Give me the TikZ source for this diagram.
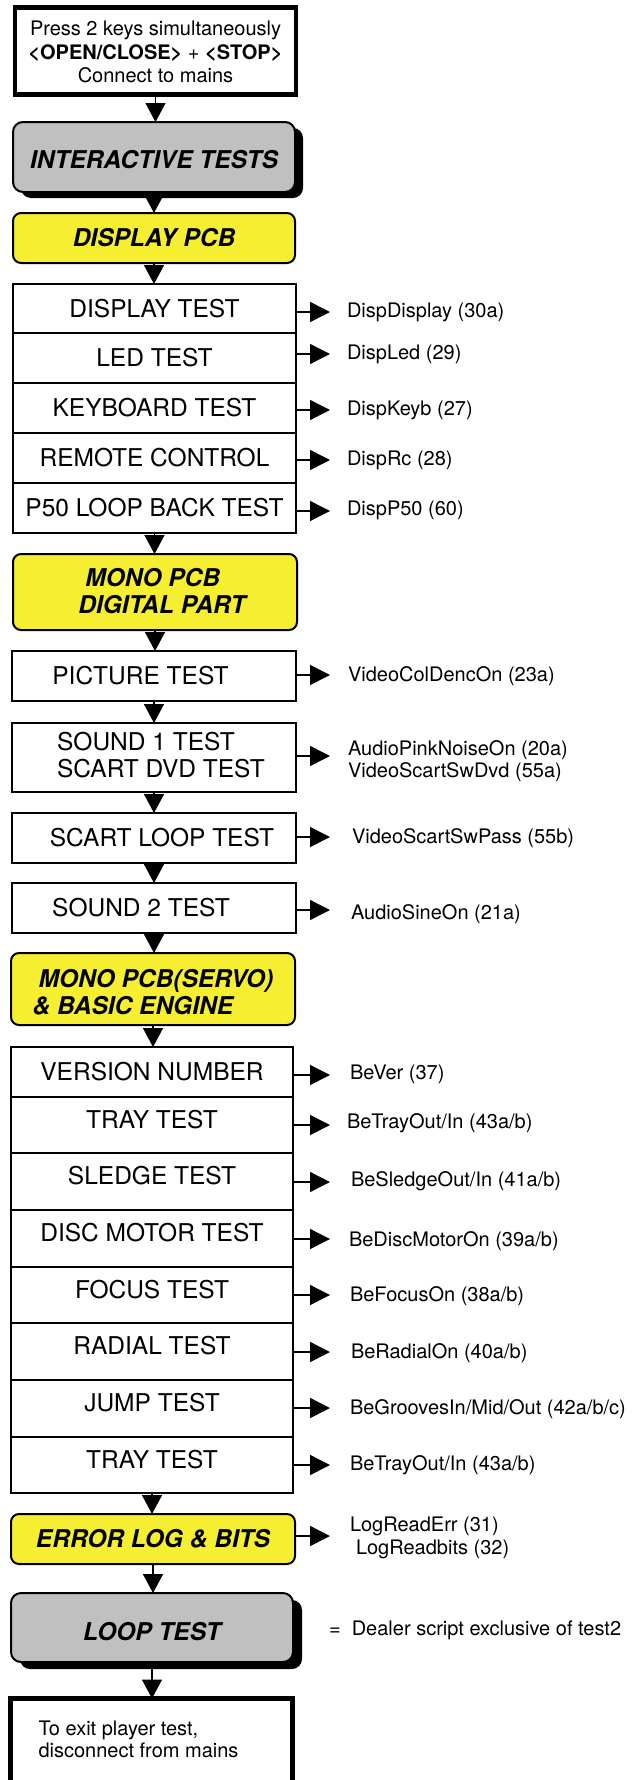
\documentclass[tikz,border=0pt]{standalone}
\usepackage{fontspec}
\setmainfont{TeX Gyre Heros}
\usetikzlibrary{arrows.meta,shadows}
\definecolor{ylw}{HTML}{F6EE30}
\definecolor{gry}{HTML}{C0C0C0}
\begin{document}
\begin{tikzpicture}[x=1pt,y=-1pt,
  every node/.style={inner sep=0pt, outer sep=0pt},
  bx/.style={draw, line width=2.6pt, fill=white, font=\fontsize{24.5pt}{27.3pt}\selectfont, text height=17.6pt, text depth=0pt, minimum width=284pt, minimum height=50pt},
  brow/.style={bx, minimum width=282pt},
  up/.style={text depth=11pt},
  hdfont/.style={font=\fontsize{24.5pt}{27pt}\selectfont\bfseries\itshape},
  ylwhd/.style={draw, line width=2pt, fill=ylw, rounded corners=8pt, hdfont, text height=17.6pt, text depth=0pt, minimum width=284pt, minimum height=50pt},
  gryhd/.style={draw, line width=2pt, fill=gry, rounded corners=10pt, hdfont, text depth=0pt, minimum width=282pt},
  topbox/.style={draw, line width=4.5pt, fill=white, align=center, font=\fontsize{20pt}{23.5pt}\selectfont, text height=67.4pt, text depth=4pt},
  finbox/.style={draw, line width=5pt, fill=white, align=left, font=\fontsize{20pt}{22.3pt}\selectfont, text height=36pt, text depth=4.4pt},
  lab/.style={anchor=west, font=\fontsize{20pt}{22pt}\selectfont, text height=14.4pt, text depth=0pt},
  dn/.style={line width=1.5pt, -{Triangle[width=20pt,length=19pt]}},
  ra/.style={line width=1.5pt, -{Triangle[width=20pt,length=20pt]}}
]
\useasboundingbox (0,0) rectangle (640,1780);

% ---- boxes ----
\node[topbox, minimum width=281pt, minimum height=87pt] (start) at (155.5,51)
  {Press 2 keys simultaneously\\ \textbf{<OPEN/CLOSE>} + \textbf{<STOP>}\\ Connect to mains};
\node[gryhd, minimum height=70pt, text height=22.6pt,
  drop shadow={shadow xshift=8pt, shadow yshift=-6pt, opacity=1, fill=black}] (inter) at (154,157) {INTERACTIVE TESTS};
\node[ylwhd, minimum width=282pt] (disp) at (154,238) {DISPLAY PCB};

\node[bx, minimum width=283pt, minimum height=49pt] (r1) at (154.5,308.5) {DISPLAY TEST};
\node[bx, minimum width=283pt] (r2) at (154.5,358) {LED TEST};
\node[bx, minimum width=283pt] (r3) at (154.5,408) {KEYBOARD TEST};
\node[bx, minimum width=283pt] (r4) at (154.5,458) {REMOTE CONTROL};
\node[bx, minimum width=283pt] (r5) at (154.5,508) {P50 LOOP BACK TEST};

\node[ylwhd, minimum height=76pt, align=left, text height=42.6pt, text depth=0pt] (mono) at (155,592)
  {\rule{21pt}{0pt}MONO PCB\\ \rule{14pt}{0pt}DIGITAL PART};

\node[bx] (pic) at (154,676) {PICTURE TEST\rule{27pt}{0pt}};
\node[bx, minimum height=69pt, align=left, text height=39.6pt, text depth=0pt] (snd1) at (154,757.5)
  {\rule{14pt}{0pt}SOUND 1 TEST\\ \rule{14pt}{0pt}SCART DVD TEST};
\node[bx] (scart) at (154,838) {\rule{16pt}{0pt}SCART LOOP TEST};
\node[bx] (snd2) at (154,908) {SOUND 2 TEST\rule{26pt}{0pt}};

\node[ylwhd, minimum height=72pt, align=left, text height=50pt, text depth=0pt] (servo) at (153,989)
  {\rule{6pt}{0pt}MONO PCB(SERVO)\\ \& BASIC ENGINE};

\node[brow] (b1) at (152,1072) {VERSION NUMBER};
\node[brow, up, minimum height=56pt] (b2) at (152,1125) {TRAY TEST};
\node[brow, up, minimum height=57pt] (b3) at (152,1181.5) {SLEDGE TEST};
\node[brow, up, minimum height=57pt] (b4) at (152,1238.5) {DISC MOTOR TEST};
\node[brow, up, minimum height=56pt] (b5) at (152,1295) {FOCUS TEST};
\node[brow, up, minimum height=57pt] (b6) at (152,1351.5) {RADIAL TEST};
\node[brow, up, minimum height=57pt] (b7) at (152,1408.5) {JUMP TEST};
\node[brow, up, minimum height=56pt] (b8) at (152,1465) {TRAY TEST};

\node[ylwhd] (err) at (153,1539) {ERROR LOG \& BITS};
\node[gryhd, minimum height=69pt, text height=26.6pt,
  drop shadow={shadow xshift=9pt, shadow yshift=-7pt, opacity=1, fill=black}] (loop) at (152,1627.5) {LOOP TEST};
\node[finbox, minimum width=282pt, minimum height=86pt] (fin) at (151.5,1741.5)
  {To exit player test,\\ disconnect from mains\rule{26pt}{0pt}};

% ---- down connectors ----
\draw[dn] (start.south) -- (start.south |- inter.north);
\draw[dn] (inter.south) -- (inter.south |- disp.north);
\draw[dn] (disp.south) -- (disp.south |- r1.north);
\draw[dn] (r5.south) -- (r5.south |- mono.north);
\draw[dn] (mono.south) -- (mono.south |- pic.north);
\draw[dn] (pic.south) -- (pic.south |- snd1.north);
\draw[dn] (snd1.south) -- (snd1.south |- scart.north);
\draw[dn] (scart.south) -- (scart.south |- snd2.north);
\draw[dn] (snd2.south) -- (snd2.south |- servo.north);
\draw[dn] (servo.south) -- (servo.south |- b1.north);
\draw[dn] (b8.south) -- (b8.south |- err.north);
\draw[dn] (err.south) -- (err.south |- loop.north);
\draw[dn] (loop.south) -- (loop.south |- fin.north);

% ---- labels ----
\node[lab] (l1) at (347,310) {DispDisplay (30a)};
\node[lab] (l2) at (347,352) {DispLed (29)};
\node[lab] (l3) at (347,408) {DispKeyb (27)};
\node[lab] (l4) at (347,458) {DispRc (28)};
\node[lab] (l5) at (347,508) {DispP50 (60)};
\node[lab] (l6) at (348,674) {VideoColDencOn (23a)};
\node[lab, align=left, text height=36.4pt, text depth=0pt] (l7) at (348,759)
  {AudioPinkNoiseOn (20a)\\ VideoScartSwDvd (55a)};
\node[lab] (l8) at (352,836) {VideoScartSwPass (55b)};
\node[lab] (l9) at (351,912) {AudioSineOn (21a)};
\node[lab] (l10) at (350,1072) {BeVer (37)};
\node[lab] (l11) at (347,1121) {BeTrayOut/In (43a/b)};
\node[lab] (l12) at (351,1179) {BeSledgeOut/In (41a/b)};
\node[lab] (l13) at (349,1239) {BeDiscMotorOn (39a/b)};
\node[lab] (l14) at (350,1294) {BeFocusOn (38a/b)};
\node[lab] (l15) at (351,1351) {BeRadialOn (40a/b)};
\node[lab] (l16) at (350,1407) {BeGroovesIn/Mid/Out (42a/b/c)};
\node[lab] (l17) at (350,1463) {BeTrayOut/In (43a/b)};
\node[lab, align=left, text height=37.4pt, text depth=0pt, font=\fontsize{20pt}{23pt}\selectfont] (l18) at (350,1535.5)
  {LogReadErr (31)\\ \rule{6pt}{0pt}LogReadbits (32)};
\node[lab] (legend) at (329,1628) {=~~Dealer script exclusive of test2};

% ---- right connectors ----
\coordinate (t1) at (330,312);
\coordinate (t2) at (330,354);
\coordinate (t3) at (330,410);
\coordinate (t4) at (330,460);
\coordinate (t5) at (330,511);
\coordinate (t6) at (330,675);
\coordinate (t7) at (330,756);
\coordinate (t8) at (330,837);
\coordinate (t9) at (330,910);
\coordinate (t10) at (330,1075);
\coordinate (t11) at (330,1125);
\coordinate (t12) at (330,1182);
\coordinate (t13) at (330,1239);
\coordinate (t14) at (330,1295);
\coordinate (t15) at (330,1352);
\coordinate (t16) at (330,1408);
\coordinate (t17) at (330,1465);
\coordinate (t18) at (330,1536);
\draw[ra] (r1.east |- t1) -- (t1);
\draw[ra] (r2.east |- t2) -- (t2);
\draw[ra] (r3.east |- t3) -- (t3);
\draw[ra] (r4.east |- t4) -- (t4);
\draw[ra] (r5.east |- t5) -- (t5);
\draw[ra] (pic.east |- t6) -- (t6);
\draw[ra] (snd1.east |- t7) -- (t7);
\draw[ra] (scart.east |- t8) -- (t8);
\draw[ra] (snd2.east |- t9) -- (t9);
\draw[ra] (b1.east |- t10) -- (t10);
\draw[ra] (b2.east |- t11) -- (t11);
\draw[ra] (b3.east |- t12) -- (t12);
\draw[ra] (b4.east |- t13) -- (t13);
\draw[ra] (b5.east |- t14) -- (t14);
\draw[ra] (b6.east |- t15) -- (t15);
\draw[ra] (b7.east |- t16) -- (t16);
\draw[ra] (b8.east |- t17) -- (t17);
\draw[ra] (err.east |- t18) -- (t18);
\end{tikzpicture}
\end{document}
